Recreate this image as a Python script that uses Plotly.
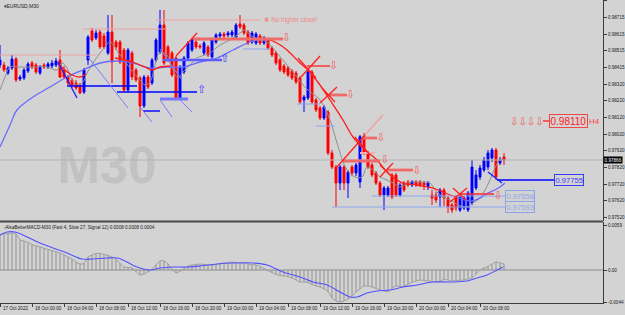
import plotly.graph_objects as go

# ---------------- data ----------------
bar_idx = list(range(127))
open_ = [0.98430,0.98430,0.98382,0.98412,0.98466,0.98346,0.98352,0.98394,0.98442,0.98430,
         0.98382,0.98430,0.98418,0.98424,0.98430,0.98460,0.98400,0.98358,0.98340,0.98322,
         0.98310,0.98268,0.98460,0.98634,0.98592,0.98628,0.98604,0.98502,0.98628,0.98568,
         0.98568,0.98520,0.98280,0.98502,0.98400,0.98352,0.98184,0.98358,0.98322,0.98460,
         0.98508,0.98670,0.98538,0.98502,0.98472,0.98232,0.98388,0.98472,0.98520,0.98568,
         0.98544,0.98502,0.98538,0.98478,0.98568,0.98604,0.98616,0.98610,0.98610,0.98598,
         0.98676,0.98670,0.98628,0.98568,0.98562,0.98604,0.98562,0.98580,0.98532,0.98502,
         0.98460,0.98424,0.98412,0.98394,0.98382,0.98352,0.98220,0.98232,0.98388,0.98220,
         0.98172,0.98112,0.98148,0.97902,0.97818,0.97722,0.97818,0.97722,0.97818,0.97782,
         0.97728,0.98000,0.97902,0.97830,0.97782,0.97722,0.97650,0.97650,0.97770,0.97770,
         0.97650,0.97722,0.97728,0.97710,0.97728,0.97728,0.97722,0.97698,0.97650,0.97650,
         0.97638,0.97680,0.97632,0.97590,0.97638,0.97560,0.97572,0.97560,0.97602,0.97692,
         0.97758,0.97800,0.97818,0.97872,0.97920,0.97842,0.97878]
high = [0.98550,0.98448,0.98424,0.98490,0.98478,0.98370,0.98412,0.98448,0.98454,0.98442,
        0.98430,0.98442,0.98448,0.98460,0.98472,0.98520,0.98424,0.98370,0.98352,0.98340,
        0.98322,0.98412,0.98610,0.98652,0.98640,0.98640,0.98622,0.98730,0.98730,0.98580,
        0.98580,0.98532,0.98532,0.98514,0.98412,0.98364,0.98370,0.98370,0.98472,0.98592,
        0.98760,0.98760,0.98550,0.98514,0.98484,0.98430,0.98484,0.98574,0.98592,0.98580,
        0.98556,0.98574,0.98550,0.98592,0.98622,0.98628,0.98628,0.98634,0.98640,0.98682,
        0.98730,0.98682,0.98640,0.98634,0.98628,0.98616,0.98604,0.98592,0.98544,0.98514,
        0.98472,0.98436,0.98424,0.98406,0.98394,0.98364,0.98250,0.98412,0.98400,0.98232,
        0.98184,0.98190,0.98160,0.97920,0.97830,0.97830,0.97830,0.97800,0.97830,0.97842,
        0.98010,0.98022,0.97914,0.97842,0.97794,0.97734,0.97704,0.97704,0.97782,0.97782,
        0.97722,0.97734,0.97740,0.97740,0.97740,0.97740,0.97734,0.97734,0.97680,0.97668,
        0.97692,0.97692,0.97644,0.97602,0.97650,0.97650,0.97644,0.97674,0.97860,0.97800,
        0.97830,0.97878,0.97920,0.97932,0.97932,0.97878,0.97902]
low = [0.98412,0.98388,0.98370,0.98400,0.98328,0.98334,0.98340,0.98382,0.98406,0.98376,
       0.98370,0.98406,0.98406,0.98412,0.98418,0.98352,0.98346,0.98310,0.98292,0.98280,
       0.98256,0.98256,0.98430,0.98568,0.98580,0.98526,0.98526,0.98490,0.98322,0.98520,
       0.98436,0.98268,0.98268,0.98340,0.98328,0.98118,0.98172,0.98286,0.98310,0.98448,
       0.98496,0.98430,0.98448,0.98358,0.98220,0.98220,0.98376,0.98460,0.98508,0.98526,
       0.98526,0.98490,0.98478,0.98466,0.98556,0.98592,0.98592,0.98598,0.98598,0.98586,
       0.98646,0.98610,0.98550,0.98556,0.98550,0.98550,0.98550,0.98520,0.98478,0.98430,
       0.98388,0.98376,0.98358,0.98340,0.98316,0.98196,0.98148,0.98220,0.98196,0.98148,
       0.98100,0.98100,0.97890,0.97806,0.97578,0.97680,0.97680,0.97632,0.97764,0.97764,
       0.97692,0.97890,0.97806,0.97758,0.97710,0.97638,0.97560,0.97638,0.97626,0.97638,
       0.97638,0.97668,0.97698,0.97698,0.97698,0.97698,0.97680,0.97680,0.97590,0.97602,
       0.97578,0.97584,0.97542,0.97542,0.97554,0.97548,0.97560,0.97548,0.97590,0.97680,
       0.97740,0.97788,0.97800,0.97848,0.97740,0.97830,0.97830]
close = [0.98460,0.98400,0.98412,0.98466,0.98340,0.98358,0.98400,0.98436,0.98418,0.98388,
         0.98418,0.98418,0.98436,0.98442,0.98454,0.98358,0.98358,0.98322,0.98310,0.98292,
         0.98262,0.98400,0.98598,0.98580,0.98622,0.98538,0.98538,0.98628,0.98448,0.98538,
         0.98448,0.98280,0.98520,0.98358,0.98340,0.98184,0.98358,0.98298,0.98460,0.98580,
         0.98670,0.98442,0.98460,0.98370,0.98232,0.98418,0.98472,0.98562,0.98580,0.98538,
         0.98538,0.98562,0.98490,0.98580,0.98610,0.98616,0.98604,0.98622,0.98628,0.98670,
         0.98658,0.98622,0.98562,0.98622,0.98616,0.98562,0.98592,0.98532,0.98490,0.98442,
         0.98400,0.98388,0.98370,0.98352,0.98328,0.98208,0.98238,0.98388,0.98208,0.98160,
         0.98112,0.98178,0.97902,0.97818,0.97722,0.97818,0.97722,0.97788,0.97782,0.97830,
         0.98000,0.97902,0.97818,0.97770,0.97722,0.97650,0.97692,0.97692,0.97638,0.97650,
         0.97710,0.97680,0.97710,0.97728,0.97710,0.97710,0.97710,0.97722,0.97632,0.97620,
         0.97680,0.97632,0.97578,0.97560,0.97572,0.97638,0.97632,0.97662,0.97818,0.97770,
         0.97812,0.97860,0.97902,0.97920,0.97758,0.97860,0.97860]

bid_price = 0.97860
bid_text = "0.97866"

time_tick_bars = [0, 8, 16, 24, 32, 40, 48, 56, 64, 72, 80, 88, 96, 104, 112, 120]
time_tick_labels = ["17 Oct 2022", "18 Oct 00:00", "18 Oct 04:00", "18 Oct 08:00",
                    "18 Oct 12:00", "18 Oct 16:00", "18 Oct 20:00", "19 Oct 00:00",
                    "19 Oct 04:00", "19 Oct 08:00", "19 Oct 12:00", "19 Oct 16:00",
                    "19 Oct 20:00", "20 Oct 00:00", "20 Oct 04:00", "20 Oct 08:00"]

price_tick_vals = [0.98815, 0.98715, 0.98615, 0.98515, 0.98415, 0.98315, 0.98215,
                   0.98115, 0.98015, 0.97915, 0.97815, 0.97715, 0.97615, 0.97515]
price_tick_text = ["0.98815", "0.98715", "0.98615", "0.98515", "0.98415", "0.98320", "0.98220",
                   "0.98120", "0.98020", "0.97920", "0.97820", "0.97720", "0.97620", "0.97520"]

macd_tick_vals = [0.0059, 0.0, -0.00432]
macd_tick_text = ["0.0059", "0.00", "-0.0044"]

# fast moving average (gray)
fast_ma_x = [0, 1.25, 2.5, 5, 8.25, 11.75, 14.25, 15.5, 16.75, 18.25, 19.5, 20.75, 21.75, 23.25, 25,
             26.25, 27.5, 30, 32.5, 35, 36.25, 37.5, 38.75, 40, 41.75, 43, 44.5, 45.75, 47.5, 49.25,
             51.25, 52.5, 55, 57.5, 60, 61.25, 62.5, 65, 66.75, 69.25, 71.75, 74.25, 75.75, 77, 80,
             82.5, 84.25, 86.75, 88.75, 90.5, 91.75, 93.25, 95, 96.75, 98.25, 100, 102.5, 105, 107.5,
             108.75, 110.75, 112.5, 114.5, 116.75, 118.25, 120, 121.25, 122.5, 123.75, 125, 126.25]
fast_ma_y = [0.98280, 0.98358, 0.98418, 0.98418, 0.98418, 0.98418, 0.98400, 0.98442, 0.98412, 0.98328,
             0.98310, 0.98328, 0.98382, 0.98442, 0.98502, 0.98538, 0.98568, 0.98490, 0.98412, 0.98340,
             0.98310, 0.98328, 0.98430, 0.98508, 0.98490, 0.98412, 0.98352, 0.98388, 0.98430, 0.98472,
             0.98490, 0.98502, 0.98550, 0.98580, 0.98622, 0.98640, 0.98610, 0.98580, 0.98568, 0.98502,
             0.98430, 0.98358, 0.98310, 0.98280, 0.98220, 0.98100, 0.97962, 0.97800, 0.97758, 0.97758,
             0.97818, 0.97800, 0.97758, 0.97740, 0.97722, 0.97698, 0.97728, 0.97728, 0.97722, 0.97680,
             0.97638, 0.97620, 0.97590, 0.97578, 0.97602, 0.97632, 0.97680, 0.97740, 0.97812, 0.97860,
             0.97860]

# slow two-colour moving average
slow_up1_x = [0, 2.5, 4.25, 8.25, 12.5, 16.75, 20.75, 25, 29.25, 33.25, 37.5, 41.75, 45.75, 50,
              54.25, 58.25, 62.5, 66.25]
slow_up1_y = [0.97938, 0.98070, 0.98160, 0.98238, 0.98298, 0.98358, 0.98400, 0.98442, 0.98454,
              0.98442, 0.98412, 0.98418, 0.98418, 0.98448, 0.98472, 0.98520, 0.98568, 0.98592]
slow_down_x = [66.25, 69.25, 71.75, 75, 77, 80, 82.5, 85.75, 88.25, 91.25, 94.25, 96.75, 99.25,
               100.75, 104.25, 108.25, 110.75, 112.5, 114.25]
slow_down_y = [0.98592, 0.98562, 0.98520, 0.98442, 0.98400, 0.98310, 0.98220, 0.98100, 0.97998,
               0.97920, 0.97860, 0.97788, 0.97740, 0.97722, 0.97710, 0.97692, 0.97668, 0.97650, 0.97638]
slow_up2_x = [114.25, 116.25, 118, 120, 122, 123.75, 125, 126.25]
slow_up2_y = [0.97638, 0.97620, 0.97614, 0.97632, 0.97662, 0.97680, 0.97698, 0.97722]

# medium MA, falling parts (red)
red_ma_a_x = [14.5, 16.25, 18, 20, 21.5]
red_ma_a_y = [0.98436, 0.98400, 0.98370, 0.98358, 0.98376]
red_ma_b_x = [28.75, 31.25, 33.75, 36.25, 38, 40, 42.5]
red_ma_b_y = [0.98472, 0.98460, 0.98442, 0.98418, 0.98400, 0.98418, 0.98424]

# MACD
macd_main = [0.00461, 0.00474, 0.00480, 0.00487, 0.00474, 0.00395, 0.00382, 0.00362, 0.00336, 0.00316,
             0.00303, 0.00286, 0.00270, 0.00255, 0.00239, 0.00224, 0.00197, 0.00171, 0.00145, 0.00105,
             0.00079, 0.00087, 0.00171, 0.00197, 0.00217, 0.00217, 0.00204, 0.00191, 0.00171, 0.00145,
             0.00086, 0.00039, 0.00033, 0.00026, -0.00020, -0.00066, -0.00053, -0.00026, 0.00013, 0.00066,
             0.00118, 0.00118, 0.00079, 0.00013, -0.00039, -0.00013, 0.00013, 0.00053, 0.00066, 0.00072,
             0.00079, 0.00072, 0.00066, 0.00066, 0.00072, 0.00086, 0.00092, 0.00099, 0.00105, 0.00099,
             0.00092, 0.00092, 0.00079, 0.00072, 0.00066, 0.00046, 0.00020, -0.00007, -0.00033, -0.00059,
             -0.00072, -0.00079, -0.00088, -0.00105, -0.00132, -0.00158, -0.00158, -0.00164, -0.00191, -0.00211,
             -0.00224, -0.00250, -0.00283, -0.00368, -0.00408, -0.00421, -0.00408, -0.00382, -0.00342, -0.00289,
             -0.00250, -0.00211, -0.00211, -0.00224, -0.00243, -0.00263, -0.00276, -0.00283, -0.00243, -0.00211,
             -0.00217, -0.00217, -0.00184, -0.00164, -0.00145, -0.00132, -0.00138, -0.00145, -0.00149, -0.00158,
             -0.00145, -0.00125, -0.00132, -0.00145, -0.00138, -0.00136, -0.00132, -0.00118, -0.00105, -0.00053,
             0.00000, 0.00026, 0.00046, 0.00079, 0.00105, 0.00092, 0.00079]
signal_x = [0, 1.75, 3.75, 6.75, 10, 13.25, 16.75, 20.5, 23.25, 26.75, 29.5, 31.75, 34.25, 37.5, 40,
            43.25, 46.75, 50, 54.25, 58.25, 63.25, 66.75, 70.75, 75, 78.25, 81.75, 85, 87.5, 89.25,
            91.75, 94.25, 97.5, 100.75, 104.25, 108.25, 112.5, 116.75, 119.25, 121.75, 124.25, 125.75]
signal_y = [0.00461, 0.00500, 0.00500, 0.00434, 0.00355, 0.00289, 0.00224, 0.00145, 0.00145, 0.00158,
            0.00158, 0.00105, 0.00039, 0.0, 0.00026, 0.00039, 0.00039, 0.00053, 0.00079, 0.00092,
            0.00092, 0.00066, -0.00026, -0.00092, -0.00158, -0.00197, -0.00289, -0.00355, -0.00355,
            -0.00303, -0.00276, -0.00263, -0.00224, -0.00197, -0.00158, -0.00158, -0.00145, -0.00105,
            -0.00066, 0.0, 0.00039]

# drawn objects: horizontal levels (bar_from, bar_to, price)
pink_levels = [(0, 24.25, 0.98490), (20.75, 41.75, 0.98646), (39, 65, 0.98700)]
pink_levels_thick = [(90, 93.75, 0.97902)]
red_levels_thick = [(48.25, 70.75, 0.98586), (82.25, 86.75, 0.98250), (90.75, 94.25, 0.97992),
                    (85.75, 95, 0.97854), (96.75, 103.25, 0.97800)]
red_levels_thin = [(76.75, 82.5, 0.98424), (115, 123.5, 0.97656), (135.75, 137.6, 0.98094)]
blue_levels_dark = [(16.75, 34.25, 0.98304), (29.25, 49.25, 0.98268), (35.75, 40, 0.98154),
                    (124.25, 138.75, 0.97740)]
blue_levels_thick = [(40, 47, 0.98226)]
blue_levels_mid = [(40.75, 55.5, 0.98460)]
blue_levels_light = [(60.75, 67.5, 0.98526), (74.25, 80, 0.98196), (79, 83.75, 0.98064),
                     (93, 126.5, 0.97644), (83, 126.5, 0.97578)]
# drawn objects: sloped lines (bar0, price0, bar1, price1)
red_lines = [(44, 0.98484, 49.25, 0.98622),
             (75.25, 0.98358, 80, 0.98484), (74.5, 0.98472, 79, 0.98352),
             (80, 0.98202, 84.25, 0.98298), (80.5, 0.98292, 83.75, 0.98208),
             (84.25, 0.97818, 91.25, 0.98010), (88.75, 0.97998, 92.5, 0.97890),
             (95, 0.97758, 98.25, 0.97842), (95, 0.97830, 98, 0.97758),
             (112.5, 0.97608, 116.75, 0.97692), (113.25, 0.97692, 116.5, 0.97620)]
pink_lines = [(91.25, 0.98010, 95.75, 0.98130)]
blue_lines_dark = [(14.5, 0.98448, 19.25, 0.98232), (122, 0.97788, 125.5, 0.97722)]
blue_lines_light = [(22, 0.98478, 32, 0.98172), (35, 0.98178, 38, 0.98088), (40, 0.98220, 43, 0.98118),
                    (45, 0.98220, 48, 0.98148), (40, 0.98526, 45.5, 0.98340)]
down_arrows = [(71.6, 0.98592), (83.4, 0.98424), (87.6, 0.98250), (95.2, 0.97992), (96.2, 0.97860),
               (104.2, 0.97794), (124.5, 0.97644)]
up_arrows = [(50.4, 0.98280), (56.2, 0.98466)]

h4_level = 0.98094
h4_text = "0.98110"
label_boxes = [(142.2, 0.97740, "0.97755", "#3a3aff"), (130.0, 0.97644, "0.97658", "#8ea4ea"),
               (130.0, 0.97578, "0.97593", "#8ea4ea")]
resist_note = (65.6, 0.98700, "✖ No higher close!")

# ---------------- figure ----------------
BG = "#d3d3d3"
FONT = "Liberation Sans, Arial, DejaVu Sans"
fig = go.Figure()

def segs(lst, horiz=False):
    xs, ys = [], []
    for s in lst:
        if horiz:
            x0, x1, p = s
            xs += [x0, x1, None]; ys += [p, p, None]
        else:
            x0, y0, x1, y1 = s
            xs += [x0, x1, None]; ys += [y0, y1, None]
    return xs, ys

def add_lines(xs, ys, color, width, shape="linear", yaxis="y"):
    fig.add_trace(go.Scatter(x=xs, y=ys, mode="lines", line=dict(color=color, width=width, shape=shape),
                             xaxis="x", yaxis=yaxis, hoverinfo="skip", connectgaps=False))

# watermark
fig.add_trace(go.Scatter(x=[26.75], y=[0.97800], mode="text", text=["M30"],
                         textfont=dict(family="Liberation Sans", size=51, color="#c2c2c2", weight="bold"),
                         xaxis="x", yaxis="y", hoverinfo="skip"))
# bid line
add_lines([0, 150.75], [bid_price, bid_price], "#b3b3b3", 1)

# candles
fig.add_trace(go.Candlestick(x=bar_idx, open=open_, high=high, low=low, close=close,
                             increasing=dict(line=dict(color="#0000ff", width=1), fillcolor="#0000ff"),
                             decreasing=dict(line=dict(color="#ff0000", width=1), fillcolor="#ff0000"),
                             whiskerwidth=0, xaxis="x", yaxis="y", hoverinfo="skip"))

# moving averages
add_lines(fast_ma_x, fast_ma_y, "#8e8e8e", 1, "spline")
add_lines(slow_up1_x, slow_up1_y, "#6a6aff", 1.3, "spline")
add_lines(slow_down_x, slow_down_y, "#ff1a1a", 1.3, "spline")
add_lines(slow_up2_x, slow_up2_y, "#6a6aff", 1.3, "spline")
add_lines(red_ma_a_x, red_ma_a_y, "#ff1a1a", 1.3, "spline")
add_lines(red_ma_b_x, red_ma_b_y, "#ff1a1a", 1.3, "spline")

# drawn objects
add_lines(*segs(pink_levels, True), "#eda2a2", 1)
add_lines(*segs(pink_levels_thick, True), "#eeb0b0", 2)
add_lines(*segs(red_levels_thick, True), "#f06a6a", 2.8)
add_lines(*segs(red_levels_thin, True), "#ff2a2a", 1.4)
add_lines(*segs(blue_levels_dark, True), "#0000ff", 1.4)
add_lines(*segs(blue_levels_thick, True), "#7474ff", 3)
add_lines(*segs(blue_levels_mid, True), "#5c5cff", 2.5)
add_lines(*segs(blue_levels_light, True), "#8ea8f0", 1)
add_lines(*segs(red_lines), "#ff2020", 1.3)
add_lines(*segs(pink_lines), "#f49a9a", 1.2)
add_lines(*segs(blue_lines_dark), "#1a1aff", 1.3)
add_lines(*segs(blue_lines_light), "#7c7cff", 1)

fig.add_trace(go.Scatter(x=[a[0] for a in down_arrows], y=[a[1] for a in down_arrows], mode="text",
                         text=["⇩"] * len(down_arrows),
                         textfont=dict(family="DejaVu Sans", size=11, color="#f06060"),
                         xaxis="x", yaxis="y", hoverinfo="skip"))
fig.add_trace(go.Scatter(x=[a[0] for a in up_arrows], y=[a[1] for a in up_arrows], mode="text",
                         text=["⇧"] * len(up_arrows),
                         textfont=dict(family="DejaVu Sans", size=11, color="#3a3aff"),
                         xaxis="x", yaxis="y", hoverinfo="skip"))

# MACD
fig.add_trace(go.Bar(x=bar_idx, y=macd_main, width=0.16, marker=dict(color="#b2b2b2", line=dict(width=0)),
                     xaxis="x", yaxis="y2", hoverinfo="skip"))
add_lines([0, 150.75], [0, 0], "#8c8c8c", 1, yaxis="y2")
add_lines(bar_idx, macd_main, "#a0a0a0", 1, "spline", yaxis="y2")
add_lines(signal_x, signal_y, "#5252ff", 1.1, "spline", yaxis="y2")

annotations = []
# time labels
for b, t in zip(time_tick_bars, time_tick_labels):
    annotations.append(dict(x=b + 0.3, y=-0.0198, xref="x", yref="paper", text=t, showarrow=False,
                            xanchor="left", yanchor="middle",
                            font=dict(family=FONT, size=4.6, color="#202020")))
annotations += [
    dict(x=0.004, y=0.997, xref="paper", yref="paper", text="▾EURUSD,M30", showarrow=False,
         xanchor="left", yanchor="top", font=dict(family=FONT, size=5, color="#202020")),
    dict(x=0.004, y=0.2508, xref="paper", yref="paper",
         text="-AlsaBetterMACD-M30 (Fast 4, Slow 27, Signal 12) 0.0008 0.0008 0.0004",
         showarrow=False, xanchor="left", yanchor="middle", font=dict(family=FONT, size=4.6, color="#202020")),
    dict(x=resist_note[0], y=resist_note[1], xref="x", yref="y", text=resist_note[2], showarrow=False,
         xanchor="left", yanchor="middle", font=dict(family=FONT, size=6.4, color="#f08888")),
    dict(x=131.8, y=h4_level, xref="x", yref="y", text="⇩⇩⇩⇩", showarrow=False,
         xanchor="center", yanchor="middle", font=dict(family="DejaVu Sans", size=10, color="#f05858")),
    dict(x=142.1, y=h4_level, xref="x", yref="y", text=h4_text, showarrow=False,
         xanchor="center", yanchor="middle", bordercolor="#f04848", borderwidth=1, borderpad=0.5,
         font=dict(family=FONT, size=10, color="#ff2020")),
    dict(x=148.7, y=h4_level, xref="x", yref="y", text="H4", showarrow=False,
         xanchor="center", yanchor="middle", font=dict(family=FONT, size=8, color="#ff4040")),
    dict(x=1, y=bid_price, xref="paper", yref="y", text=bid_text, showarrow=False, xanchor="left",
         yanchor="middle", bgcolor="#000000", borderpad=0.6,
         font=dict(family=FONT, size=4.6, color="#ffffff")),
]
for bx, py, txt, col in label_boxes:
    annotations.append(dict(x=bx, y=py, xref="x", yref="y", text=txt, showarrow=False,
                            xanchor="center", yanchor="middle", bordercolor=col, borderwidth=1,
                            borderpad=0.5, font=dict(family=FONT, size=7.6, color=col)))

shapes = [dict(type="line", xref="paper", yref="paper", x0=0, x1=1, y0=0.26898, y1=0.26898,
               line=dict(color="#4a4a4a", width=2))]

axis_common = dict(showgrid=False, zeroline=False, showline=True, linecolor="#3c3c3c", linewidth=1,
                   ticks="outside", ticklen=3, tickcolor="#3c3c3c", fixedrange=True)
fig.update_layout(
    width=625, height=315, autosize=False,
    margin=dict(l=0, r=22, t=0, b=12, pad=0),
    paper_bgcolor=BG, plot_bgcolor=BG,
    showlegend=False, hovermode=False, bargap=0,
    xaxis=dict(domain=[0, 1], range=[0, 150.75], anchor="y2", tickvals=time_tick_bars,
               showticklabels=False, rangeslider=dict(visible=False), **axis_common),
    yaxis=dict(domain=[0.2706, 1], range=[0.97494, 0.98820], side="right", anchor="x",
               tickvals=price_tick_vals, ticktext=price_tick_text,
               tickfont=dict(family=FONT, size=4.6, color="#202020"), **axis_common),
    yaxis2=dict(domain=[0, 0.2673], range=[-0.004342, 0.006316], side="right", anchor="x",
                tickvals=macd_tick_vals, ticktext=macd_tick_text,
                tickfont=dict(family=FONT, size=4.6, color="#202020"), **axis_common),
    annotations=annotations, shapes=shapes,
)

fig.write_html("out.html")
